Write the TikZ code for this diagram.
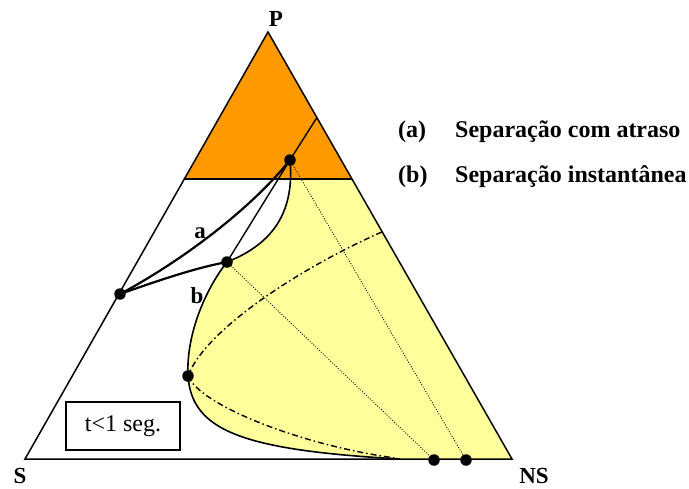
\documentclass[tikz,border=0pt]{standalone}
\usepackage{fontspec}
\setmainfont{Liberation Serif}
\definecolor{orng}{RGB}{255,153,0}
\definecolor{ylw}{RGB}{255,255,155}
\begin{document}
\begin{tikzpicture}[x=1pt,y=-1pt,
  dot/.style={circle,fill=black,inner sep=0pt,minimum size=11.5pt},
  edge/.style={line width=1.5pt,line join=miter},
  curve/.style={line width=2.2pt},
  tie/.style={line width=0.8pt,dash pattern=on 1pt off 1.6pt},
  dashdot/.style={line width=1.4pt,dash pattern=on 6pt off 3pt on 1.5pt off 3pt},
  lbl/.style={font=\fontsize{23}{26}\selectfont\bfseries,inner sep=0pt},
  legend/.style={font=\fontsize{24}{27}\selectfont\bfseries,inner sep=0pt,anchor=base west}]
\useasboundingbox (0,0) rectangle (689,488);
% vertices
\coordinate (vP) at (268,32);
\coordinate (vS) at (25,459);
\coordinate (vNS) at (512,459);
\coordinate (oL) at (184.3,179);
\coordinate (oR) at (351.7,179);
\coordinate (eT) at (316.8,117.7);
\coordinate (eD) at (381.8,232);
\coordinate (yB) at (400,459);
\coordinate (dD) at (395,458);
% dots positions
\coordinate (cP1) at (290,160);
\coordinate (cA) at (120,294);
\coordinate (cB) at (227,262);
\coordinate (cC) at (188,376);
\coordinate (cN1) at (434,460);
\coordinate (cN2) at (466,460);
% yellow region
\fill[ylw] (oR) -- (vNS) -- (yB) .. controls (240,450) and (192,430) .. (cC)
  .. controls (186,335) and (205,290) .. (cB)
  .. controls (270,245) and (295,215) .. (cP1) -- cycle;
% orange region
\fill[orng] (vP) -- (oL) -- (oR) -- cycle;
% triangle
\draw[edge] (vP) -- (vNS) -- (vS) -- cycle;
\draw[line width=1.3pt] (oL) -- (oR);
% tie lines
\draw[tie] (cP1) -- (cN2);
\draw[tie] (cB) -- (cN1);
% dash-dot curves
\draw[dashdot] (eD) .. controls (300,268) and (205,330) .. (cC);
\draw[dashdot] (cC) .. controls (200,405) and (300,445) .. (dD);
% boundary curve
\draw[line width=1.6pt] (yB) .. controls (240,450) and (192,430) .. (cC)
  .. controls (186,335) and (205,290) .. (cB)
  .. controls (270,245) and (295,215) .. (cP1);
% curves a and b
\draw[curve] (cA) .. controls (180,262) and (250,210) .. (cP1);
\draw[curve] (cA) .. controls (160,280) and (195,268) .. (cB);
\draw[line width=1.4pt] (cB) -- (cP1) -- (eT);
% dots
\node[dot] (P1) at (cP1) {};
\node[dot] (A) at (cA) {};
\node[dot] (B) at (cB) {};
\node[dot] (C) at (cC) {};
\node[dot] (N1) at (cN1) {};
\node[dot] (N2) at (cN2) {};
% labels
\node[lbl] (lP) at (276,19) {P};
\node[lbl] (lS) at (20,476) {S};
\node[lbl] (lNS) at (534,476) {NS};
\node[lbl] (la) at (200,233) {a};
\node[lbl] (lb) at (197,296) {b};
\node[draw,line width=1.5pt,minimum width=114pt,minimum height=48pt,inner sep=0pt,
  font=\fontsize{24}{26}\selectfont] (box) at (123,426) {t<1 seg.};
% legend
\node[legend] (ga) at (398,137) {(a)};
\node[legend] (ta) at (455,137) {Separação com atraso};
\node[legend] (gb) at (398,182) {(b)};
\node[legend] (tb) at (455,182) {Separação instantânea};
\end{tikzpicture}
\end{document}
